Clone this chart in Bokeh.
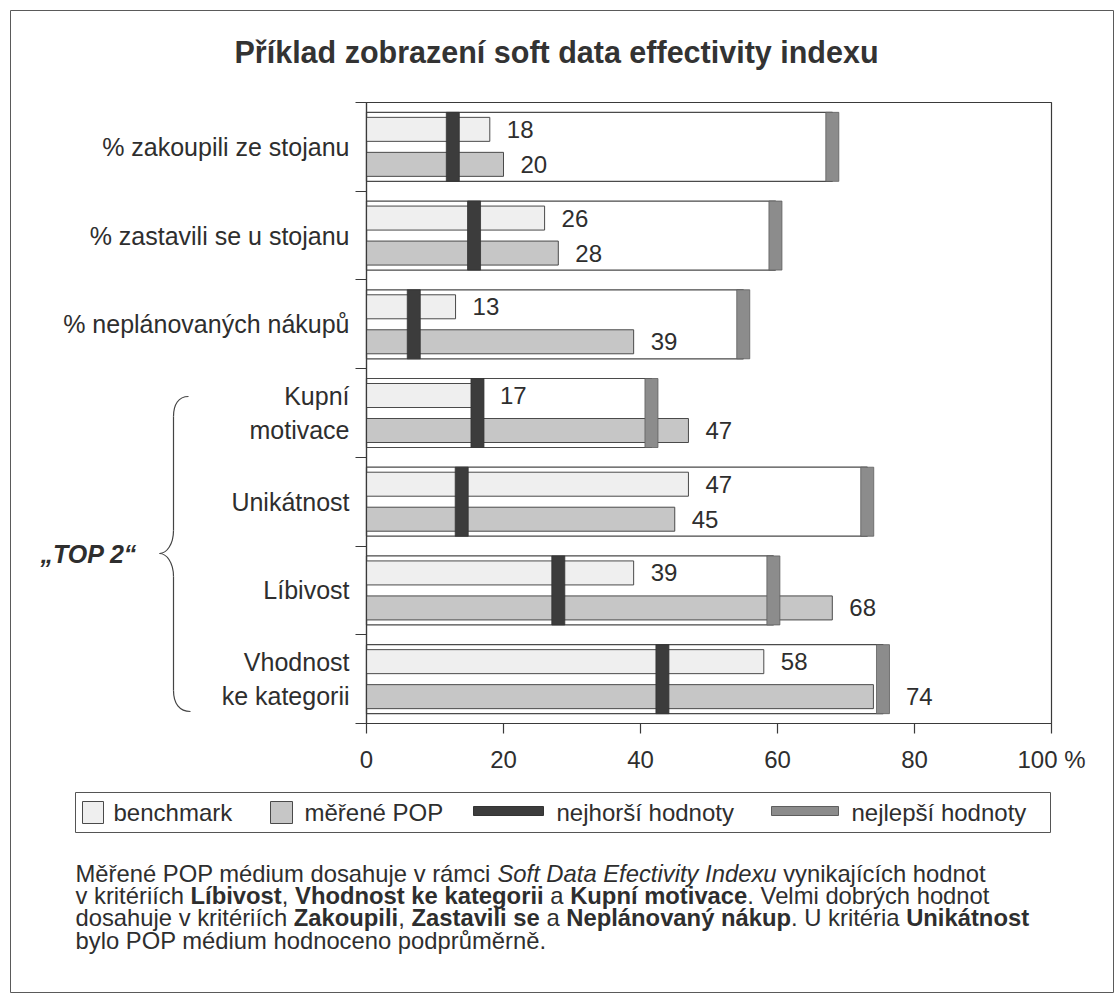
from bokeh.plotting import figure
from bokeh.models import Range1d, LinearAxis, FixedTicker
from bokeh.embed import file_html
from bokeh.resources import INLINE
from bokeh.core.properties import value

# ---------------------------------------------------------------- data
categories = [
    "% zakoupili ze stojanu",
    "% zastavili se u stojanu",
    "% neplánovaných nákupů",
    "Kupní\nmotivace",
    "Unikátnost",
    "Líbivost",
    "Vhodnost\nke kategorii",
]
benchmark = [18, 26, 13, 17, 47, 39, 58]
measured_pop = [20, 28, 39, 47, 45, 68, 74]
worst_values = [12.6, 15.7, 6.9, 16.2, 13.9, 28.0, 43.2]
best_values = [68.0, 59.7, 55.0, 41.6, 73.1, 59.4, 75.4]

x_ticks = [0, 20, 40, 60, 80, 100]
x_tick_labels = ["0", "20", "40", "60", "80", "100 %"]

title_text = "Příklad zobrazení soft data effectivity indexu"
group_label = "„TOP 2“"
legend_labels = ["benchmark", "měřené POP", "nejhorší hodnoty", "nejlepší hodnoty"]

# caption lines as (text, style) runs
caption = [
    [("Měřené POP médium dosahuje v rámci ", "normal"),
     ("Soft Data Efectivity Indexu", "italic"),
     (" vynikajících hodnot", "normal")],
    [("v kritériích ", "normal"), ("Líbivost", "bold"), (", ", "normal"),
     ("Vhodnost ke kategorii", "bold"), (" a ", "normal"),
     ("Kupní motivace", "bold"), (". Velmi dobrých hodnot", "normal")],
    [("dosahuje v kritériích ", "normal"), ("Zakoupili", "bold"), (", ", "normal"),
     ("Zastavili se", "bold"), (" a ", "normal"), ("Neplánovaný nákup", "bold"),
     (". U kritéria ", "normal"), ("Unikátnost", "bold")],
    [("bylo POP médium hodnoceno podprůměrně.", "normal")],
]

# ---------------------------------------------------------------- styles
FONT = "Liberation Sans"
INK = "#2e2e2e"
EDGE = "#4a4a4a"
BENCH_FILL = "#efefef"
POP_FILL = "#c6c6c6"
WORST_FILL = "#3c3c3c"
BEST_FILL = "#8c8c8c"

# ---------------------------------------------------------------- page geometry (pixels)
W, H = 1116, 994
PLOT_L, PLOT_R = 366, 1051      # where 0 % and 100 % sit
PLOT_T, PLOT_B = 102, 723       # top and bottom of the category band
n = len(categories)
px_x = (PLOT_R - PLOT_L) / 100.0
px_y = (PLOT_B - PLOT_T) / n


def xd(px):
    return (px - PLOT_L) / px_x


def yd(py):
    return (py - PLOT_T) / px_y


p = figure(
    width=W, height=H,
    x_range=Range1d(xd(0), xd(W)),
    y_range=Range1d(yd(H), yd(0)),
    x_axis_type=None, y_axis_type=None,
    toolbar_location=None, output_backend="svg",
    min_border=0, outline_line_color=None,
    background_fill_color="white", border_fill_color="white",
)

# outer frame of the figure panel
p.quad(left=xd(10), right=xd(1113), top=yd(10), bottom=yd(992),
       fill_color=None, line_color="#5a5a5a", line_width=1)

# plot area frame
p.quad(left=0, right=100, top=0, bottom=n, fill_color=None,
       line_color="#3a3a3a", line_width=1.2)

centers = [i + 0.5 for i in range(n)]
shift = 17.5 / px_y
bar_h = 24 / px_y
box_h = 69 / px_y

# envelope of each criterion: from 0 up to the best value
p.hbar(y=centers, left=0, right=best_values, height=box_h,
       fill_color=None, line_color=EDGE, line_width=1.2)

bench_y = [c - shift for c in centers]
pop_y = [c + shift for c in centers]
p.hbar(y=bench_y, left=0, right=benchmark, height=bar_h,
       fill_color=BENCH_FILL, line_color=EDGE, line_width=1)
p.hbar(y=pop_y, left=0, right=measured_pop, height=bar_h,
       fill_color=POP_FILL, line_color=EDGE, line_width=1)

p.rect(x=worst_values, y=centers, width=13, width_units="screen", height=box_h,
       fill_color=WORST_FILL, line_color="#333333", line_width=0.8)
p.rect(x=best_values, y=centers, width=13, width_units="screen", height=box_h,
       fill_color=BEST_FILL, line_color="#5e5e5e", line_width=0.8)


# value labels; a label pushed right past a best marker sitting at the bar end
def label_anchor(v, best):
    if 0 <= best - v <= 3:
        return best, 23
    return v, 17


lab_x, lab_y, lab_off, lab_t = [], [], [], []
for vals, ys in ((benchmark, bench_y), (measured_pop, pop_y)):
    for v, yy, b in zip(vals, ys, best_values):
        ax, off = label_anchor(v, b)
        lab_x.append(ax)
        lab_y.append(yy)
        lab_off.append(off)
        lab_t.append(str(v))
p.text(x=lab_x, y=lab_y, text=lab_t, x_offset=lab_off,
       text_align="left", text_baseline="middle",
       text_font=value(FONT), text_font_size="24px", text_color=INK)

# axes
xaxis = LinearAxis(
    fixed_location=n, bounds=(0, 100),
    ticker=FixedTicker(ticks=x_ticks),
    major_label_overrides={t: s for t, s in zip(x_ticks, x_tick_labels)},
    major_tick_out=10, major_tick_in=0, minor_tick_out=0, minor_tick_in=0,
    axis_line_color="#3a3a3a", axis_line_width=1.2,
    major_tick_line_color="#3a3a3a", major_tick_line_width=1.2,
    major_label_standoff=12,
    major_label_text_font=FONT, major_label_text_font_size="24px",
    major_label_text_color=INK,
)
p.add_layout(xaxis, "below")

yaxis = LinearAxis(
    fixed_location=0, bounds=(0, n),
    ticker=FixedTicker(ticks=centers, minor_ticks=list(range(n + 1))),
    major_label_overrides={c: s for c, s in zip(centers, categories)},
    major_tick_out=0, major_tick_in=0, minor_tick_out=11, minor_tick_in=0,
    axis_line_color="#3a3a3a", axis_line_width=1.2,
    minor_tick_line_color="#3a3a3a", minor_tick_line_width=1.2,
    major_label_standoff=6,
    major_label_text_font=FONT, major_label_text_font_size="25px",
    major_label_text_color=INK,
)
p.add_layout(yaxis, "left")

# title
p.text(x=[xd(556)], y=[yd(51)], text=[title_text], text_align="center",
       text_baseline="middle", text_font=value(FONT), text_font_style="bold",
       text_font_size="30.5px", text_color="#333333")

# brace grouping the last four criteria
brace_curves = [
    ((188, 396), (178, 396), (173, 404), (173, 416)),
    ((173, 530), (173, 544), (166, 553), (159, 553)),
    ((159, 553), (166, 553), (173, 562), (173, 576)),
    ((173, 690), (173, 703), (179, 711), (190, 711)),
]
p.bezier(x0=[xd(c[0][0]) for c in brace_curves], y0=[yd(c[0][1]) for c in brace_curves],
         cx0=[xd(c[1][0]) for c in brace_curves], cy0=[yd(c[1][1]) for c in brace_curves],
         cx1=[xd(c[2][0]) for c in brace_curves], cy1=[yd(c[2][1]) for c in brace_curves],
         x1=[xd(c[3][0]) for c in brace_curves], y1=[yd(c[3][1]) for c in brace_curves],
         line_color="#444444", line_width=1.2)
p.segment(x0=[xd(173), xd(173)], y0=[yd(416), yd(576)],
          x1=[xd(173), xd(173)], y1=[yd(530), yd(690)],
          line_color="#444444", line_width=1.2)
p.text(x=[xd(40)], y=[yd(553)], text=[group_label], text_align="left",
       text_baseline="middle", text_font=value(FONT), text_font_style="bold italic",
       text_font_size="25px", text_color=INK)

# legend
LEG_T, LEG_B, LEG_MID = 792, 832, 812
p.quad(left=xd(75), right=xd(1050), top=yd(LEG_T), bottom=yd(LEG_B),
       fill_color=None, line_color="#555555", line_width=1)
swatches = [
    (82, 103, 801, 823, BENCH_FILL, EDGE),
    (270, 292, 801, 823, POP_FILL, EDGE),
    (473, 543, 806, 815, WORST_FILL, "#333333"),
    (771, 838, 806, 815, BEST_FILL, "#5e5e5e"),
]
p.quad(left=[xd(s[0]) for s in swatches], right=[xd(s[1]) for s in swatches],
       top=[yd(s[2]) for s in swatches], bottom=[yd(s[3]) for s in swatches],
       fill_color=[s[4] for s in swatches], line_color=[s[5] for s in swatches],
       line_width=1)
legend_text_x = [113, 304, 556, 851]
p.text(x=[xd(v) for v in legend_text_x], y=[yd(LEG_MID)] * 4, text=legend_labels,
       text_align="left", text_baseline="middle", text_font=value(FONT),
       text_font_size="24px", text_color=INK)

# caption below the chart: runs laid out with Arial-compatible advance widths
REG = {" ": 278, ",": 278, ".": 278, "a": 556, "b": 556, "c": 500, "d": 556, "e": 556,
       "f": 278, "g": 556, "h": 556, "i": 222, "j": 222, "k": 500, "l": 222, "m": 833,
       "n": 556, "o": 556, "p": 556, "r": 333, "s": 500, "t": 278, "u": 556, "v": 500,
       "x": 500, "y": 500, "z": 500, "M": 833, "P": 667, "O": 778, "S": 667, "D": 722,
       "E": 667, "I": 278, "U": 722, "V": 667, "L": 556, "K": 667, "Z": 611, "N": 722,
       "ě": 556, "ř": 333, "é": 556, "á": 556, "í": 278, "ý": 500, "č": 500, "ů": 556,
       "ú": 556}
BOLD = {" ": 278, ",": 278, ".": 278, "a": 556, "b": 611, "c": 556, "d": 611, "e": 556,
        "f": 333, "g": 611, "h": 611, "i": 278, "j": 278, "k": 556, "l": 278, "m": 889,
        "n": 611, "o": 611, "p": 611, "r": 389, "s": 556, "t": 333, "u": 611, "v": 556,
        "y": 556, "z": 500, "ý": 556, "á": 556, "í": 278, "L": 611, "V": 667, "K": 722,
        "Z": 611, "N": 722, "U": 722}

CAP_SIZE = 23.8
CAP_X, CAP_Y, CAP_STEP = 75, 873, 22.2


def run_width(text, style):
    table = BOLD if style == "bold" else REG
    return sum(table.get(ch, 556) for ch in text) * CAP_SIZE / 1000.0


for style in ("normal", "italic", "bold"):
    xs, ys, ts = [], [], []
    for li, line in enumerate(caption):
        cx = CAP_X
        for text, st in line:
            # leading blanks are collapsed in SVG text, so advance past them here
            body = text.lstrip(" ")
            lead = run_width(text[:len(text) - len(body)], st)
            if st == style and body:
                xs.append(xd(cx + lead))
                ys.append(yd(CAP_Y + li * CAP_STEP))
                ts.append(body)
            cx += run_width(text, st)
    p.text(x=xs, y=ys, text=ts, text_align="left", text_baseline="middle",
           text_font=value(FONT), text_font_style=style,
           text_font_size=f"{CAP_SIZE}px", text_color=INK)

open("out.html", "w").write(file_html(p, INLINE))
